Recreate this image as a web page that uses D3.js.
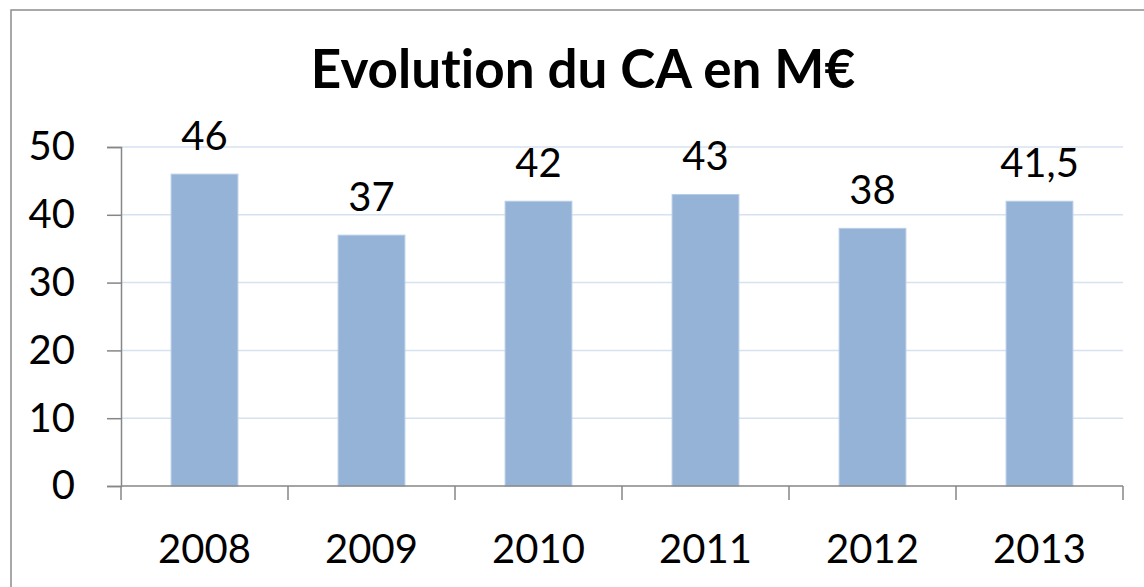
<!DOCTYPE html>
<html>
<head>
<meta charset="utf-8">
<script src="https://cdnjs.cloudflare.com/ajax/libs/d3/7.8.5/d3.min.js"></script>
<style>
  body { margin: 0; background: #fff; }
  svg { display: block; font-family: Lato, "Open Sans", sans-serif; font-variant-ligatures: none; }
</style>
</head>
<body>
<div id="canvas"></div>
<script>
const years = ["2008", "2009", "2010", "2011", "2012", "2013"];
const values = [46, 37, 42, 43, 38, 42];
const valueLabels = ["46", "37", "42", "43", "38", "41,5"];
const yTicks = [0, 10, 20, 30, 40, 50];
const title = "Evolution du CA en M€";

const w = 1144;
const h = 587;
const margin = { top: 147, bottom: 101, left: 121, right: 21 };

const svg = d3.select("#canvas")
  .append("svg")
  .attr("width", w)
  .attr("height", h);

// outer chart frame (right and bottom edges fall outside the picture)
svg.append("rect")
  .attr("x", 11)
  .attr("y", 10)
  .attr("width", w + 20)
  .attr("height", h + 20)
  .attr("fill", "none")
  .attr("stroke", "#8c8c8c")
  .attr("stroke-width", 1.5);

const x = d3.scaleBand()
  .domain(years)
  .range([margin.left, w - margin.right])
  .paddingInner(0.6)
  .paddingOuter(0.3);

const y = d3.scaleLinear()
  .domain([0, 50])
  .range([h - margin.bottom, margin.top]);

// gridlines
svg.append("g")
  .selectAll("line")
  .data(yTicks.filter(d => d > 0))
  .enter()
  .append("line")
  .attr("x1", margin.left)
  .attr("x2", w - margin.right)
  .attr("y1", d => y(d))
  .attr("y2", d => y(d))
  .attr("stroke", "#d6e2f0")
  .attr("stroke-width", 1.5);

// bars
svg.append("g")
  .selectAll("rect")
  .data(values)
  .enter()
  .append("rect")
  .attr("x", (d, i) => x(years[i]))
  .attr("y", d => y(d))
  .attr("width", x.bandwidth())
  .attr("height", d => y(0) - y(d))
  .attr("fill", "#95b3d7")
  .attr("stroke", "#b9cde5")
  .attr("stroke-width", 1);

// y axis
const yAxis = svg.append("g")
  .attr("transform", `translate(${margin.left},0)`)
  .call(d3.axisLeft(y).tickValues(yTicks).tickSize(14).tickSizeOuter(14).tickPadding(32));
yAxis.select(".domain").attr("stroke", "#868686").attr("stroke-width", 1.5);
yAxis.selectAll(".tick line").attr("stroke", "#868686").attr("stroke-width", 1.5);
yAxis.selectAll(".tick text")
  .attr("font-size", 40)
  .attr("font-family", "Lato, sans-serif")
  .attr("fill", "#000");

// x axis with ticks on category boundaries
const xAxisY = y(0);
const xg = svg.append("g");
xg.append("line")
  .attr("x1", margin.left)
  .attr("x2", w - margin.right)
  .attr("y1", xAxisY)
  .attr("y2", xAxisY)
  .attr("stroke", "#868686")
  .attr("stroke-width", 1.5);
const bounds = d3.range(years.length + 1).map(i => margin.left + i * (w - margin.left - margin.right) / years.length);
xg.selectAll(".bt")
  .data(bounds)
  .enter()
  .append("line")
  .attr("x1", d => d)
  .attr("x2", d => d)
  .attr("y1", xAxisY)
  .attr("y2", xAxisY + 14)
  .attr("stroke", "#868686")
  .attr("stroke-width", 1.5);
xg.selectAll("text")
  .data(years)
  .enter()
  .append("text")
  .attr("x", d => x(d) + x.bandwidth() / 2)
  .attr("y", 563)
  .attr("text-anchor", "middle")
  .attr("font-size", 40)
  .attr("fill", "#000")
  .text(d => d);

// value labels
svg.append("g")
  .selectAll("text")
  .data(values)
  .enter()
  .append("text")
  .attr("x", (d, i) => x(years[i]) + x.bandwidth() / 2)
  .attr("y", d => y(d) - 24)
  .attr("text-anchor", "middle")
  .attr("font-size", 40)
  .attr("fill", "#000")
  .text((d, i) => valueLabels[i]);

// title
svg.append("text")
  .attr("x", 583)
  .attr("y", 88)
  .attr("text-anchor", "middle")
  .attr("font-size", 53)
  .attr("font-weight", "bold")
  .attr("fill", "#000")
  .text(title);
</script>
</body>
</html>
